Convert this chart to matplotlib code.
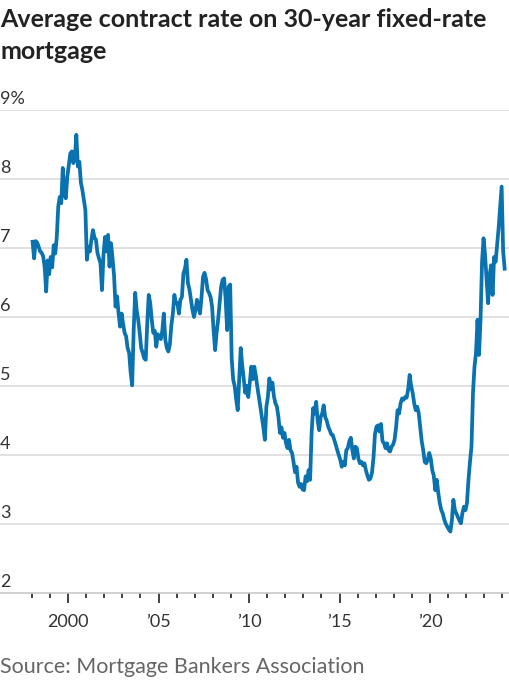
import numpy as np
import matplotlib
matplotlib.use("Agg")
import matplotlib.pyplot as plt
import matplotlib.transforms as mtransforms

# monthly average contract rate (Jan 1998 - Feb 2024)
rate_1998 = [7.09, 6.85, 7.10, 7.08, 7.02, 6.95, 6.93, 6.88, 6.72, 6.37, 6.82, 6.62]
rate_1999 = [6.87, 6.72, 7.04, 6.92, 7.15, 7.60, 7.74, 7.65, 8.16, 7.79, 7.72, 8.03]
rate_2000 = [8.20, 8.37, 8.40, 8.23, 8.30, 8.64, 8.18, 8.25, 7.95, 7.84, 7.70, 7.55]
rate_2001 = [6.83, 7.02, 6.95, 7.12, 7.26, 7.15, 7.12, 6.93, 6.85, 6.78, 6.39, 6.90]
rate_2002 = [7.16, 6.95, 7.19, 6.73, 7.07, 6.85, 6.60, 6.15, 6.30, 6.05, 5.86, 6.05]
rate_2003 = [5.90, 5.77, 5.72, 5.55, 5.48, 5.20, 5.01, 5.80, 6.35, 6.10, 5.96, 5.77]
rate_2004 = [5.55, 5.48, 5.40, 5.38, 5.90, 6.32, 6.20, 5.96, 5.77, 5.80, 5.57, 5.75]
rate_2005 = [5.72, 5.68, 5.80, 6.05, 5.67, 5.55, 5.50, 5.60, 5.88, 6.05, 6.32, 6.20]
rate_2006 = [6.20, 6.05, 6.25, 6.29, 6.63, 6.70, 6.83, 6.49, 6.40, 6.25, 6.10, 6.00]
rate_2007 = [6.10, 6.25, 6.15, 6.05, 6.29, 6.58, 6.64, 6.55, 6.39, 6.35, 6.29, 6.15]
rate_2008 = [5.81, 5.52, 5.77, 5.96, 6.20, 6.44, 6.54, 6.56, 6.25, 5.81, 6.44, 6.47]
rate_2009 = [5.40, 5.09, 5.00, 4.80, 4.65, 5.10, 5.55, 5.30, 5.10, 4.90, 5.00, 4.84]
rate_2010 = [5.05, 5.28, 5.10, 5.28, 5.15, 4.99, 4.85, 4.70, 4.55, 4.40, 4.22, 4.70]
rate_2011 = [4.84, 5.11, 4.95, 5.05, 4.85, 4.75, 4.70, 4.55, 4.32, 4.40, 4.25, 4.32]
rate_2012 = [4.17, 4.10, 4.22, 4.07, 4.03, 3.90, 3.75, 3.83, 3.60, 3.54, 3.58, 3.50]
rate_2013 = [3.49, 3.69, 3.62, 3.78, 3.64, 4.32, 4.68, 4.60, 4.77, 4.50, 4.36, 4.55]
rate_2014 = [4.60, 4.72, 4.55, 4.50, 4.41, 4.36, 4.30, 4.29, 4.22, 4.15, 4.07, 4.00]
rate_2015 = [3.93, 3.83, 3.90, 3.85, 4.07, 4.10, 4.20, 4.25, 4.07, 3.95, 4.12, 4.10]
rate_2016 = [3.95, 3.88, 3.90, 3.85, 3.88, 3.78, 3.70, 3.64, 3.66, 3.74, 3.95, 4.30]
rate_2017 = [4.41, 4.43, 4.34, 4.45, 4.20, 4.17, 4.10, 4.17, 4.07, 4.05, 4.12, 4.15]
rate_2018 = [4.22, 4.40, 4.65, 4.60, 4.75, 4.82, 4.80, 4.84, 4.83, 4.95, 5.16, 5.00]
rate_2019 = [4.90, 4.75, 4.65, 4.70, 4.61, 4.41, 4.20, 4.07, 3.90, 3.88, 3.93, 4.03]
rate_2020 = [3.95, 3.78, 3.70, 3.49, 3.64, 3.45, 3.30, 3.20, 3.15, 3.06, 3.00, 2.96]
rate_2021 = [2.92, 2.89, 3.05, 3.35, 3.20, 3.15, 3.10, 3.05, 3.01, 3.16, 3.25, 3.20]
rate_2022 = [3.30, 3.64, 3.90, 4.12, 4.90, 5.28, 5.48, 5.96, 5.45, 5.96, 6.80, 7.14]
rate_2023 = [6.90, 6.54, 6.20, 6.60, 6.75, 6.32, 6.87, 6.80, 7.04, 7.29, 7.60, 7.89]
rate_2024 = [6.95, 6.70]

yearly = [rate_1998, rate_1999, rate_2000, rate_2001, rate_2002, rate_2003,
          rate_2004, rate_2005, rate_2006, rate_2007, rate_2008, rate_2009,
          rate_2010, rate_2011, rate_2012, rate_2013, rate_2014, rate_2015,
          rate_2016, rate_2017, rate_2018, rate_2019, rate_2020, rate_2021,
          rate_2022, rate_2023, rate_2024]

y_ticks = [2, 3, 4, 5, 6, 7, 8, 9]
y_labels = ["2", "3", "4", "5", "6", "7", "8", "9%"]
x_major = [2000, 2005, 2010, 2015, 2020]
x_labels = ["2000", "\u201905", "\u201910", "\u201915", "\u201920"]

title_lines = ["Average contract rate on 30-year fixed-rate", "mortgage"]
source = "Source: Mortgage Bankers Association"

# build the x positions (mid-month, decimal years)
x, y = [], []
for i, vals in enumerate(yearly):
    for m, v in enumerate(vals):
        x.append(1998 + i + (m + 0.5) / 12)
        y.append(v)

W, H = 510, 680
fig = plt.figure(figsize=(W / 100, H / 100), dpi=100)
ax = fig.add_axes([0, 1 - 593 / H, 1, (593 - 110) / H])

ax.plot(x, y, color="#0a72ae", lw=2.7, solid_joinstyle="round", zorder=3)

ax.set_xlim(1996.24, 2024.42)
ax.set_ylim(2, 9)

for v in y_ticks[1:]:
    ax.axhline(v, color="#dcdcdc", lw=1.2, zorder=1)

for s in ["top", "right", "left"]:
    ax.spines[s].set_visible(False)
ax.spines["bottom"].set_color("#c8c8c8")
ax.spines["bottom"].set_linewidth(1.2)

ax.set_yticks([])
ax.set_xticks(x_major)
ax.set_xticklabels(x_labels, fontsize=13, color="#333333", family="Lato")
ax.set_xticks(list(range(1998, 2025)), minor=True)
ax.tick_params(axis="x", which="major", direction="out", length=7, width=1.3,
               color="#333333", pad=8)
ax.tick_params(axis="x", which="minor", direction="out", length=3.5, width=1.3,
               color="#333333")

trans = mtransforms.blended_transform_factory(ax.transAxes, ax.transData)
for v, lab in zip(y_ticks, y_labels):
    ax.annotate(lab, xy=(0, v), xycoords=trans, xytext=(0, 3),
                textcoords="offset pixels", ha="left", va="bottom",
                fontsize=13, color="#333333", family="Lato")

for k, line in enumerate(title_lines):
    fig.text(0, 1 - (27 + 32 * k) / H, line, ha="left", va="baseline",
             fontsize=18, fontweight="bold", color="#222222", family="Lato")
fig.text(0, 1 - 667 / H, source, ha="left", va="center", fontsize=15.5,
         color="#666666", family="Lato")

fig.savefig("out.png", dpi=100)
